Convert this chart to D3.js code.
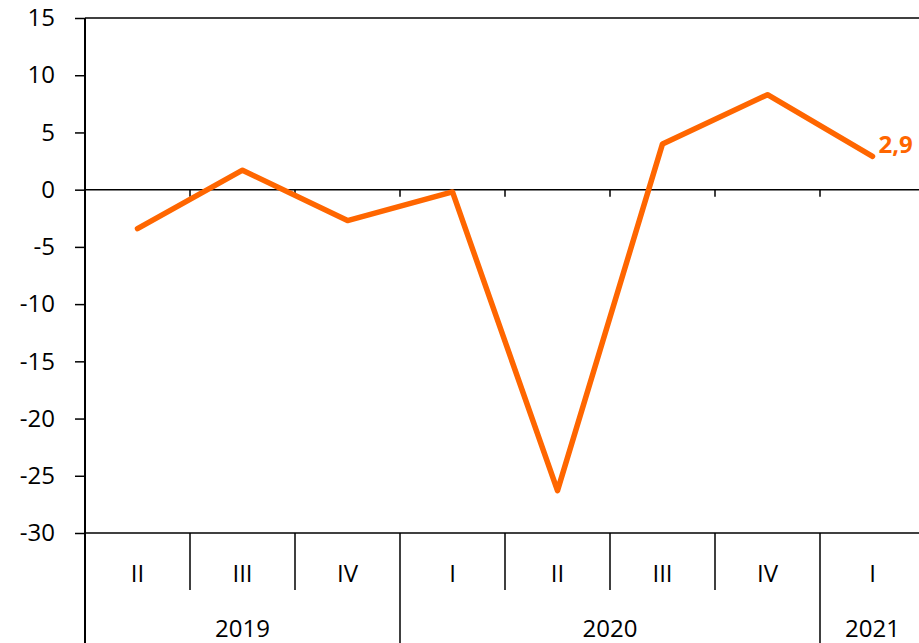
<!DOCTYPE html>
<html>
<head>
<meta charset="utf-8">
<script src="https://cdn.jsdelivr.net/npm/d3@7"></script>
<style>
  html, body { margin: 0; padding: 0; background: #fff; }
  svg { display: block; font-family: "Open Sans", "Noto Sans", sans-serif; }
</style>
</head>
<body>
<div id="chart"></div>
<script>
// quarters and values
const quarters = ["II", "III", "IV", "I", "II", "III", "IV", "I"];
const values = [-3.4, 1.7, -2.7, -0.2, -26.3, 4.0, 8.3, 2.9];
const years = ["2019", "2020", "2021"];
const yearSpans = [3, 4, 1];
const yTicks = [-30, -25, -20, -15, -10, -5, 0, 5, 10, 15];
const lastLabel = "2,9";

const width = 919, height = 643;
const marginLeft = 85, plotTop = 18, plotBottom = 533, plotRight = 925;

const svg = d3.select("#chart").append("svg")
    .attr("width", width)
    .attr("height", height);

const x = d3.scaleBand()
    .domain(d3.range(quarters.length))
    .range([marginLeft, plotRight])
    .padding(0);

const y = d3.scaleLinear()
    .domain([-30, 15])
    .range([plotBottom, plotTop]);

// top border
svg.append("line")
    .attr("x1", marginLeft).attr("x2", plotRight)
    .attr("y1", plotTop).attr("y2", plotTop)
    .attr("stroke", "#000").attr("stroke-width", 1.5);

// y axis (plain hyphen for negatives, like the original)
const yAxis = svg.append("g")
    .attr("transform", `translate(${marginLeft},0)`)
    .call(d3.axisLeft(y).tickValues(yTicks).tickFormat(d => String(d))
        .tickSize(10).tickPadding(20).tickSizeOuter(0));
yAxis.select(".domain").remove();
yAxis.selectAll(".tick line").attr("stroke", "#000").attr("stroke-width", 1.5);
yAxis.selectAll(".tick text")
    .attr("fill", "#000")
    .style("font-size", "24px")
    .style("font-family", "'Open Sans', 'Noto Sans', sans-serif");

// left axis line, runs down through the category table
svg.append("line")
    .attr("x1", marginLeft).attr("x2", marginLeft)
    .attr("y1", plotTop).attr("y2", height)
    .attr("stroke", "#000").attr("stroke-width", 2);

// zero line with small ticks at quarter boundaries
svg.append("line")
    .attr("x1", marginLeft).attr("x2", plotRight)
    .attr("y1", y(0)).attr("y2", y(0))
    .attr("stroke", "#000").attr("stroke-width", 1.5);
svg.append("g").selectAll("line")
    .data(d3.range(1, quarters.length))
    .enter().append("line")
    .attr("x1", i => x(i)).attr("x2", i => x(i))
    .attr("y1", y(0)).attr("y2", y(0) + 7)
    .attr("stroke", "#000").attr("stroke-width", 1.5);

// bottom axis line
svg.append("line")
    .attr("x1", marginLeft).attr("x2", plotRight)
    .attr("y1", plotBottom).attr("y2", plotBottom)
    .attr("stroke", "#000").attr("stroke-width", 1.5);

// year boundaries
const yearStarts = [];
let acc = 0;
yearSpans.forEach(s => { yearStarts.push(acc); acc += s; });

// quarter separators (short) and year separators (long)
svg.append("g").selectAll("line")
    .data(d3.range(1, quarters.length))
    .enter().append("line")
    .attr("x1", i => x(i)).attr("x2", i => x(i))
    .attr("y1", plotBottom)
    .attr("y2", i => yearStarts.includes(i) ? height : 590)
    .attr("stroke", "#000").attr("stroke-width", 1.5);

// quarter labels
svg.append("g").selectAll("text")
    .data(quarters)
    .enter().append("text")
    .attr("x", (d, i) => x(i) + x.bandwidth() / 2)
    .attr("y", 582)
    .attr("text-anchor", "middle")
    .style("font-size", "24px")
    .text(d => d);

// year labels
svg.append("g").selectAll("text")
    .data(years)
    .enter().append("text")
    .attr("x", (d, i) => {
        const s = yearStarts[i], e = s + yearSpans[i];
        return (x(s) + x(e - 1) + x.bandwidth()) / 2;
    })
    .attr("y", 637)
    .attr("text-anchor", "middle")
    .style("font-size", "24px")
    .text(d => d);

// the series
const line = d3.line()
    .x((d, i) => x(i) + x.bandwidth() / 2)
    .y(d => y(d));

svg.append("path")
    .datum(values)
    .attr("d", line)
    .attr("fill", "none")
    .attr("stroke", "#FF6600")
    .attr("stroke-width", 5.5)
    .attr("stroke-linejoin", "round")
    .attr("stroke-linecap", "round");

// label for last value
const li = values.length - 1;
svg.append("text")
    .attr("x", x(li) + x.bandwidth() / 2 + 6)
    .attr("y", y(values[li]) - 3)
    .attr("fill", "#FF6600")
    .style("font-size", "24px")
    .style("font-weight", "bold")
    .text(lastLabel);
</script>
</body>
</html>
